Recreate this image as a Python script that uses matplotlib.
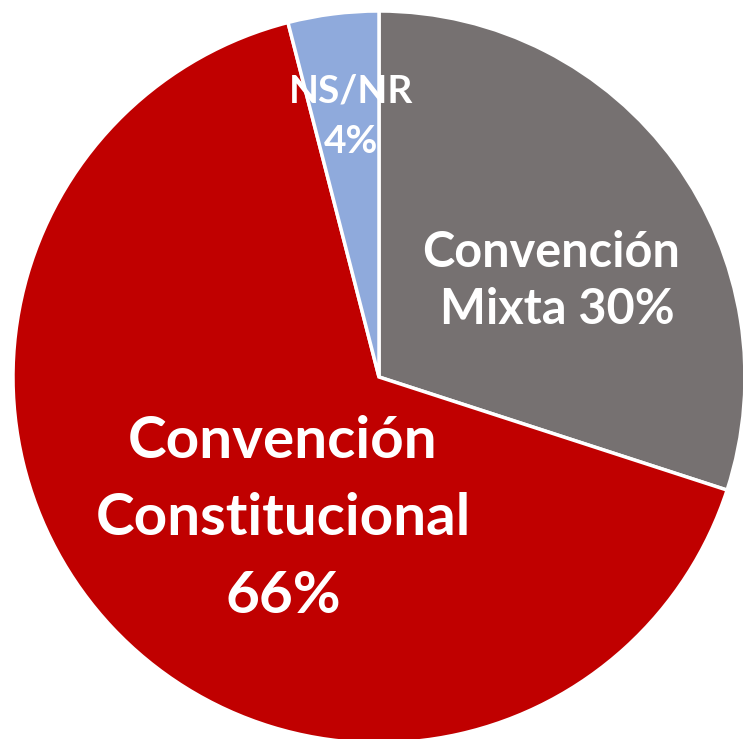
import matplotlib
matplotlib.use("Agg")
import matplotlib.pyplot as plt

labels = ["Convención\nMixta 30%", "Convención\nConstitucional\n66%", "NS/NR\n4%"]
values = [30, 66, 4]
colors = ["#767171", "#C00000", "#8FAADC"]

W, H = 743, 739
cx, cy, R = 379, 377, 366

fig = plt.figure(figsize=(W / 100, H / 100), dpi=100)
ax = fig.add_axes([0, 0, 1, 1])
wedges, _ = ax.pie(values, colors=colors, startangle=90, counterclock=False,
                   radius=1, center=(0, 0),
                   wedgeprops=dict(edgecolor="white", linewidth=2.5))
ax.set_xlim(-cx / R, (W - cx) / R)
ax.set_ylim(-(H - cy) / R, cy / R)
ax.set_aspect("auto")
ax.axis("off")

def px(x, y):
    return ((x - cx) / R, (cy - y) / R)

fam = ["Lato", "DejaVu Sans"]

# label layout: (center x per line, baselines in pixels, fontsize)
layout = [
    ([551, 557], [267, 324], 35),
    ([283, 283, 283], [458, 535, 613], 42),
    ([351, 351], [103, 153], 28),
]
for text, (xs, bases, fs) in zip(labels, layout):
    for line, x, yb in zip(text.split("\n"), xs, bases):
        ax.text(*px(x, yb), line, ha="center", va="baseline", color="white",
                fontsize=fs, fontweight="bold", family=fam)

fig.savefig("out.png", dpi=100)
